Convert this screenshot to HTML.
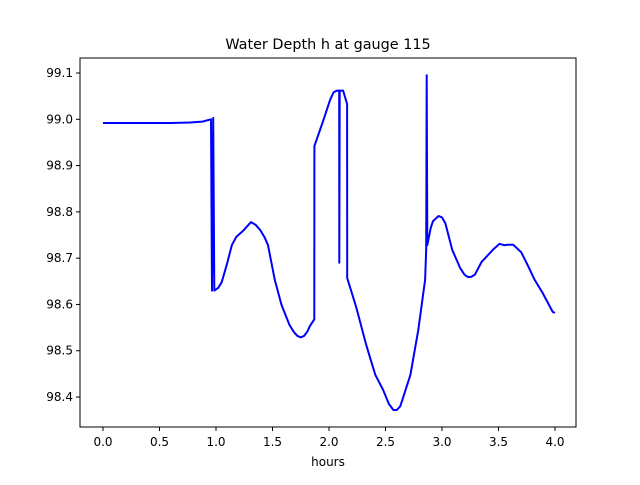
<!DOCTYPE html>
<html><head><meta charset="utf-8"><style>
body{margin:0;background:#fff;font-family:"Liberation Sans","DejaVu Sans",sans-serif}
</style></head><body>
<svg width="640" height="480" font-family="DejaVu Sans, Liberation Sans, sans-serif" font-size="12">
<rect width="640" height="480" fill="#fff"/>
<text x="328" y="49" text-anchor="middle" font-size="14.4">Water Depth h at gauge 115</text>
<text x="328" y="466" text-anchor="middle">hours</text>
<g id="ticks"></g>
<polyline id="line" fill="none" stroke="#0000ff" stroke-width="2" stroke-linejoin="round"/>
<rect x="80" y="58" width="496" height="369" fill="none" stroke="#000" stroke-width="1"/>
</svg>
<script>
const hours=[0,0.6,0.77,0.88,0.956,0.965,0.975,0.985,1.02,1.05,1.1,1.14,1.18,1.24,1.31,1.35,1.39,1.43,1.46,1.52,1.58,1.65,1.69,1.72,1.75,1.78,1.81,1.83,1.87,1.871,1.95,2.01,2.04,2.07,2.09,2.091,2.095,2.1,2.125,2.16,2.161,2.24,2.33,2.41,2.48,2.53,2.57,2.60,2.63,2.65,2.72,2.79,2.85,2.86,2.865,2.87,2.9,2.92,2.97,3.0,3.03,3.09,3.16,3.2,3.23,3.26,3.29,3.35,3.45,3.51,3.55,3.58,3.63,3.70,3.75,3.82,3.89,3.98,4.0];
const depth=[98.992,98.992,98.993,98.995,99.0,98.63,99.003,98.63,98.636,98.648,98.69,98.728,98.746,98.759,98.778,98.772,98.761,98.745,98.728,98.653,98.599,98.556,98.54,98.532,98.529,98.532,98.542,98.553,98.568,98.942,98.998,99.042,99.058,99.062,99.062,98.69,99.062,99.062,99.062,99.033,98.657,98.595,98.512,98.448,98.415,98.385,98.372,98.372,98.38,98.394,98.448,98.545,98.653,98.72,99.095,98.728,98.765,98.78,98.791,98.788,98.775,98.718,98.679,98.664,98.659,98.66,98.664,98.692,98.718,98.731,98.728,98.729,98.729,98.713,98.689,98.653,98.625,98.584,98.582];
const xTicks=[0,0.5,1,1.5,2,2.5,3,3.5,4];
const xTickLabels=["0.0","0.5","1.0","1.5","2.0","2.5","3.0","3.5","4.0"];
const yTicks=[98.4,98.5,98.6,98.7,98.8,98.9,99.0,99.1];
const yTickLabels=["98.4","98.5","98.6","98.7","98.8","98.9","99.0","99.1"];
const X=h=>103+113*h;
const Y=v=>73+(99.1-v)*462.9;
document.getElementById('line').setAttribute('points',hours.map((h,i)=>X(h).toFixed(1)+','+Y(depth[i]).toFixed(1)).join(' '));
const g=document.getElementById('ticks');const NS='http://www.w3.org/2000/svg';
function mk(t,a,txt){const e=document.createElementNS(NS,t);for(const k in a)e.setAttribute(k,a[k]);if(txt)e.textContent=txt;g.appendChild(e);return e;}
xTicks.forEach((t,i)=>{const l=mk('line',{x1:X(t),x2:X(t),y1:427,y2:431,stroke:'#000'});


const s=mk('text',{x:X(t),y:446,'text-anchor':'middle'},xTickLabels[i]);

});
yTicks.forEach((t,i)=>{const l=mk('line',{x1:76,x2:80,y1:Y(t),y2:Y(t),stroke:'#000'});


const s=mk('text',{x:73,y:Y(t)+4,'text-anchor':'end'},yTickLabels[i]);

});
</script>
</body></html>
